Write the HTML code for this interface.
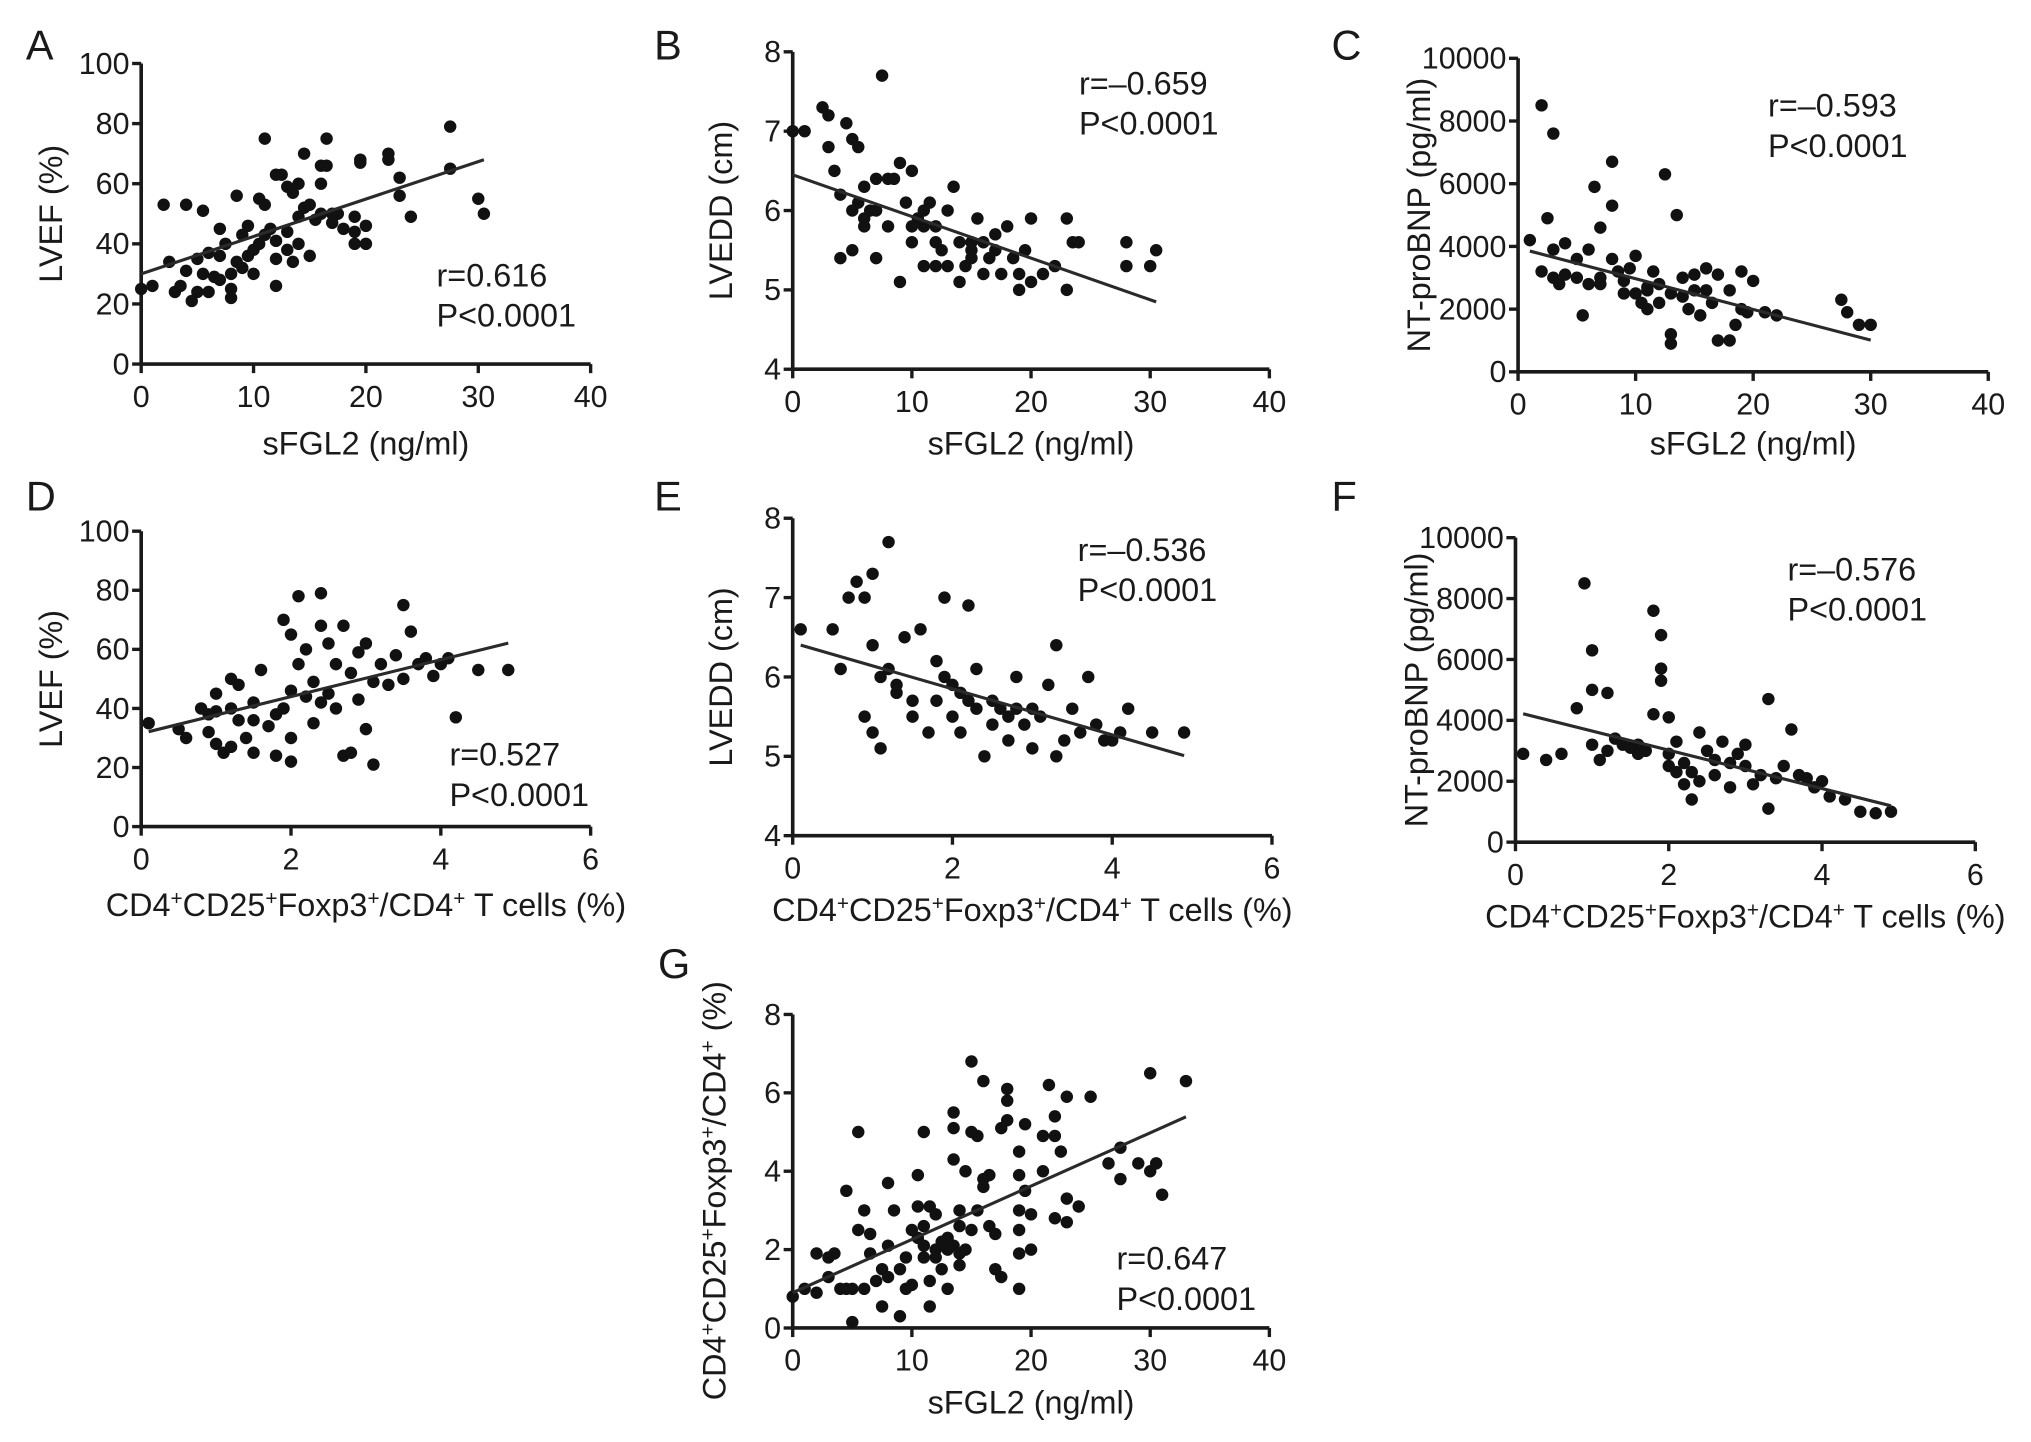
<!DOCTYPE html>
<html><head><meta charset="utf-8"><style>
html,body{margin:0;padding:0;background:#fff}
svg{display:block}
text{font-family:"Liberation Sans",sans-serif;fill:#1a1a1a}
</style></head><body>
<svg id="fig" width="2031" height="1442" viewBox="0 0 1568 1113" preserveAspectRatio="none" xmlns="http://www.w3.org/2000/svg"></svg>
<script>
// ---- data ----
const aX=[0,1,2,2.5,3,3.5,4,4,4.5,5,5,5.5,5.5,6,6,6.5,7,7,7,7.5,8,8,8,8.5,8.5,9,9,9.5,9.5,10,10,10.5,10.5,11,11,11,11.5,12,12,12,12,12.5,13,13,13,13.5,13.5,14,14,14,14.5,14.5,15,15,15.5,16,16,16,16.5,16.5,17,17,17.5,18,19,19,19,19.5,19.5,20,20,22,22,23,23,24,27.5,27.5,30,30.5];
const aY=[25,26,53,34,24,26,53,31,21,24,35,51,30,24,37,29,45,36,28,40,30,22,25,56,34,43,32,46,36,38,30,40,55,53,75,43,45,41,35,26,63,63,59,44,38,57,34,49,60,40,70,52,53,36,48,50,60,66,75,66,47,50,50,45,49,44,40,67,68,46,40,68,70,62,56,49,79,65,55,50];
const bX=[0,1,2.5,3,3,3.5,4,4,4.5,5,5,5,5.5,5.5,6,6,6.5,7,7,7.5,8,8,8.5,9,9,9.5,10,10,10.5,11,11,11.5,12,12,12.5,13,13,13.5,14,14,14.5,15,15,15.5,16,16,16.5,17,17,17.5,18,18.5,19,19,19.5,20,20,21,22,23,23,23.5,24,28,28,30,30.5,12,11,7,6,10,15];
const bY=[7.0,7.0,7.3,7.2,6.8,6.5,6.2,5.4,7.1,6.9,6.0,5.5,6.8,6.1,6.3,5.8,6.0,5.4,6.4,7.7,6.4,5.8,6.4,6.6,5.1,6.1,5.6,6.5,5.9,5.3,5.8,6.1,5.3,5.6,5.5,5.3,6.0,6.3,5.6,5.1,5.3,5.5,5.4,5.9,5.2,5.6,5.4,5.7,5.5,5.2,5.8,5.4,5.2,5.0,5.5,5.9,5.1,5.2,5.3,5.0,5.9,5.6,5.6,5.6,5.3,5.3,5.5,5.8,6.0,6.0,5.9,5.8,5.6];
const cX=[1,2,2,2.5,3,3,3,3.5,4,4,5,5,5.5,6,6,6.5,7,7,8,8,8,8.5,9,9.5,10,10,10.5,11,11,11.5,12,12,12.5,13,13,13,13.5,14,14,14.5,15,15,15.5,16,16,16.5,17,17,18,18,18.5,19,19,19.5,20,21,22,27.5,28,29,30,7,9,11];
const cY=[4200,8500,3200,4900,7600,3900,3000,2800,4100,3100,3000,3600,1800,2800,3900,5900,3000,4600,6700,5300,3600,3200,2900,3300,2500,3700,2200,2000,2600,3200,2200,2800,6300,900,1200,2500,5000,2400,3000,2000,2600,3100,1800,3300,2600,2200,1000,3100,2600,1000,1500,2000,3200,1900,2900,1900,1800,2300,1900,1500,1500,2800,2500,2700];
const dX=[0.1,0.5,0.6,0.8,0.9,0.9,1,1,1,1.1,1.2,1.2,1.3,1.3,1.4,1.5,1.5,1.6,1.7,1.8,1.8,1.9,1.9,2,2,2,2,2.1,2.1,2.2,2.2,2.3,2.3,2.4,2.4,2.5,2.5,2.6,2.6,2.7,2.7,2.8,2.8,2.9,2.9,3,3,3.1,3.1,3.2,3.3,3.4,3.5,3.5,3.6,3.7,3.8,3.9,4,4.1,4.2,4.5,4.9,1.5,2.4,1.2];
const dY=[35,33,30,40,38,32,28,45,39,25,27,50,36,48,30,42,25,53,34,38,24,40,70,65,46,30,22,78,55,44,60,49,35,79,68,62,45,55,40,68,24,52,25,59,43,62,33,21,49,55,48,58,75,50,66,55,57,51,55,57,37,53,53,36,42,40];
const eX=[0.1,0.5,0.6,0.7,0.8,0.9,0.9,1,1,1,1.1,1.1,1.2,1.2,1.3,1.4,1.5,1.5,1.6,1.7,1.8,1.8,1.9,1.9,2,2,2.1,2.2,2.2,2.3,2.3,2.4,2.5,2.5,2.6,2.7,2.8,2.8,2.9,3,3,3.1,3.2,3.3,3.3,3.4,3.5,3.6,3.7,3.8,3.9,4,4.1,4.2,4.5,4.9,1.3,2.1,2.7];
const eY=[6.6,6.6,6.1,7.0,7.2,7.0,5.5,7.3,6.4,5.3,5.1,6.0,7.7,6.1,5.8,6.5,5.7,5.5,6.6,5.3,6.2,5.7,7.0,6.0,5.9,5.5,5.3,5.7,6.9,5.6,6.1,5.0,5.7,5.4,5.6,5.2,5.6,6.0,5.4,5.6,5.1,5.5,5.9,6.4,5.0,5.2,5.6,5.3,6.0,5.4,5.2,5.2,5.3,5.6,5.3,5.3,5.9,5.8,5.5];
const fX=[0.1,0.4,0.6,0.8,0.9,1,1,1,1.1,1.2,1.2,1.3,1.4,1.5,1.6,1.7,1.8,1.8,1.9,1.9,1.9,2,2,2,2.1,2.2,2.2,2.3,2.3,2.4,2.4,2.5,2.6,2.6,2.7,2.8,2.8,2.9,3,3,3.1,3.2,3.3,3.3,3.4,3.5,3.6,3.7,3.8,3.9,4,4.1,4.3,4.5,4.7,4.9,2.1,1.6];
const fY=[2900,2700,2900,4400,8500,5000,6300,3200,2700,4900,3000,3400,3200,3100,3200,3000,7600,4200,6800,5700,5300,4100,2500,2900,2300,1900,2600,1400,2300,3600,2000,3000,2700,2200,3300,2600,1800,2900,3200,2500,1900,2200,4700,1100,2100,2500,3700,2200,2100,1800,2000,1500,1400,1000,950,1000,3300,2900];
const gX=[0,1,2,2,3,3,3.5,4,4.5,4.5,5,5,5.5,5.5,6,6,6.5,6.5,7,7.5,7.5,8,8,8,8.5,9,9,9.5,9.5,10,10.5,10.5,10.5,11,11,11,11.5,11.5,11.5,12,12,12.5,13,13,13,13.5,13.5,13.5,13.5,14,14,14,14.5,14.5,15,15,15,15.5,15.5,16,16,16,16.5,16.5,17,17,17.5,17.5,18,18,18,19,19,19,19,19,19,19.5,19.5,20,20,21,21,21.5,22,22,22,22.5,23,23,23,24,25,26.5,27.5,27.5,29,30,30,30.5,31,33,12.5,13,14,10,11,12];
const gY=[0.8,1.0,0.9,1.9,1.8,1.3,1.9,1.0,3.5,1.0,0.15,1.0,5.0,2.5,3.0,1.0,2.4,1.9,1.2,0.55,1.5,2.1,3.7,1.3,3.0,0.3,1.5,1.8,1.0,1.1,3.9,3.1,2.3,2.1,5.0,1.8,0.55,3.1,1.2,2.9,2.0,1.5,2.0,2.3,1.0,5.5,5.1,4.3,2.1,3.0,1.6,2.6,4.0,2.0,6.8,5.0,2.5,4.9,3.0,3.8,3.6,6.3,3.9,2.6,2.4,1.5,5.1,1.3,6.1,5.8,5.3,4.5,3.9,3.0,2.5,1.9,1.0,5.2,3.5,2.9,2.0,4.0,4.9,6.2,5.4,4.9,2.8,4.5,5.9,3.3,2.7,3.1,5.9,4.2,3.8,4.6,4.2,6.5,4.0,4.2,3.4,6.3,2.2,2.1,1.9,2.5,2.6,1.8];
// regression: [intercept, slope, xStart, xEnd]
const aFit=[30,1.245,0,30.5], bFit=[6.45,-0.0525,0,30.5], cFit=[3950,-98,1,30];
const dFit=[31.5,6.25,0.1,4.9], eFit=[6.43,-0.29,0.1,4.9], fFit=[4280,-630,0.1,4.9], gFit=[0.9,0.136,0,33];
const aTicksY=[0,20,40,60,80,100], bTicksY=[4,5,6,7,8], cTicksY=[0,2000,4000,6000,8000,10000];
const xTicks40=[0,10,20,30,40], xTicks6=[0,2,4,6], gTicksY=[0,2,4,6,8];

// ---- drawing ----
const NS="http://www.w3.org/2000/svg";
const svg=document.getElementById('fig');
function mk(tag,attrs,parent){const e=document.createElementNS(NS,tag);for(const k in attrs)e.setAttribute(k,attrs[k]);(parent||svg).appendChild(e);return e;}
const CD4=[["CD4",0],["+",1],["CD25",0],["+",1],["Foxp3",0],["+",1],["/CD4",0],["+",1]];
function richText(g,parts,attrs,tail){
  const t=mk('text',attrs,g);
  parts.forEach(p=>{const s=mk('tspan',p[1]?{'baseline-shift':'super','font-size':'16'}:{},t);s.textContent=p[0];});
  if(tail){const s=mk('tspan',{},t);s.textContent=tail;}
  return t;
}
function panel(cfg){
  const g=mk('g',{});
  
  
  const sx=v=>cfg.px0+(v-cfg.xmin)/(cfg.xmax-cfg.xmin)*(cfg.px1-cfg.px0);
  const sy=v=>cfg.py0-(v-cfg.ymin)/(cfg.ymax-cfg.ymin)*(cfg.py0-cfg.py1);
  const lab=mk('text',{x:cfg.lx,y:cfg.ly,'font-size':32},g);lab.textContent=cfg.id;
  
  
  const ax=mk('path',{d:`M${cfg.px0} ${cfg.py1}V${cfg.py0}H${cfg.px1}`,stroke:'#1a1a1a','stroke-width':2.8,fill:'none'},g);
  
  
  cfg.yt.forEach(v=>{const y=sy(v);mk('line',{x1:cfg.px0-7,x2:cfg.px0,y1:y,y2:y,stroke:'#1a1a1a','stroke-width':2.6},g);
    const t=mk('text',{x:cfg.px0-9,y:y+8,'font-size':23.5,'text-anchor':'end'},g);t.textContent=v;
    
    });
  cfg.xt.forEach(v=>{const x=sx(v);mk('line',{x1:x,x2:x,y1:cfg.py0,y2:cfg.py0+7,stroke:'#1a1a1a','stroke-width':2.6},g);
    const t=mk('text',{x:x,y:cfg.py0+33,'font-size':23.5,'text-anchor':'middle'},g);t.textContent=v;
    
    });
  cfg.xs.forEach((xv,i)=>{const c=mk('circle',{cx:sx(xv),cy:sy(cfg.ys[i]),r:4.8,fill:'#111'},g);
    
    });
  const f=cfg.fit;
  const ln=mk('line',{x1:sx(f[2]),y1:sy(f[0]+f[1]*f[2]),x2:sx(f[3]),y2:sy(f[0]+f[1]*f[3]),stroke:'#2a2a2a','stroke-width':2.4},g);
  
  
  const r=mk('text',{x:cfg.rx,y:cfg.ry,'font-size':25},g);r.textContent=cfg.r;
  
  
  const p=mk('text',{x:cfg.rx,y:cfg.ry+31,'font-size':25},g);p.textContent='P<0.0001';
  
  
  let xt;
  if(cfg.xcd4) xt=richText(g,CD4,{x:(cfg.px0+cfg.px1)/2,y:cfg.xty,'font-size':25,'text-anchor':'middle'},' T cells (%)');
  else {xt=mk('text',{x:(cfg.px0+cfg.px1)/2,y:cfg.xty,'font-size':25,'text-anchor':'middle'},g);xt.textContent='sFGL2 (ng/ml)';}
  
  
  const ymid=(cfg.py0+cfg.py1)/2+cfg.ytoff;
  let yt;
  if(cfg.ycd4) yt=richText(g,CD4,{x:0,y:0,'font-size':25,'text-anchor':'middle',transform:`translate(${cfg.ytx},${ymid}) rotate(-90)`},' (%)');
  else {yt=mk('text',{'font-size':25,'text-anchor':'middle',transform:`translate(${cfg.ytx},${ymid}) rotate(-90)`},g);yt.textContent=cfg.ytitle;}
  
  
}
panel({id:'A',lx:20,ly:46,px0:109,px1:456,py0:281,py1:49,xmin:0,xmax:40,ymin:0,ymax:100,xt:xTicks40,yt:aTicksY,xs:aX,ys:aY,fit:aFit,r:'r=0.616',rx:337,ry:221,xty:351,ytx:48,ytitle:'LVEF (%)',ytoff:0});
panel({id:'B',lx:505,ly:46,px0:612,px1:980,py0:285,py1:40,xmin:0,xmax:40,ymin:4,ymax:8,xt:xTicks40,yt:bTicksY,xs:bX,ys:bY,fit:bFit,r:'r=–0.659',rx:833,ry:73,xty:351,ytx:565,ytitle:'LVEDD (cm)',ytoff:0});
panel({id:'C',lx:1028,ly:46,px0:1172,px1:1535,py0:287,py1:45,xmin:0,xmax:40,ymin:0,ymax:10000,xt:xTicks40,yt:cTicksY,xs:cX,ys:cY,fit:cFit,r:'r=–0.593',rx:1365,ry:90,xty:351,ytx:1104,ytitle:'NT-proBNP (pg/ml)',ytoff:0});
panel({id:'D',lx:20,ly:394,px0:109,px1:456,py0:638,py1:410,xmin:0,xmax:6,ymin:0,ymax:100,xt:xTicks6,yt:aTicksY,xs:dX,ys:dY,fit:dFit,r:'r=0.527',rx:347,ry:591,xty:707,xcd4:true,ytx:48,ytitle:'LVEF (%)',ytoff:0});
panel({id:'E',lx:505,ly:394,px0:612,px1:982,py0:645,py1:400,xmin:0,xmax:6,ymin:4,ymax:8,xt:xTicks6,yt:bTicksY,xs:eX,ys:eY,fit:eFit,r:'r=–0.536',rx:832,ry:433,xty:711,xcd4:true,ytx:565,ytitle:'LVEDD (cm)',ytoff:0});
panel({id:'F',lx:1028,ly:394,px0:1170,px1:1525,py0:650,py1:415,xmin:0,xmax:6,ymin:0,ymax:10000,xt:xTicks6,yt:cTicksY,xs:fX,ys:fY,fit:fFit,r:'r=–0.576',rx:1380,ry:448,xty:716,xcd4:true,ytx:1102,ytitle:'NT-proBNP (pg/ml)',ytoff:0});
panel({id:'G',lx:508,ly:755,px0:612,px1:980,py0:1025,py1:783,xmin:0,xmax:40,ymin:0,ymax:8,xt:xTicks40,yt:gTicksY,xs:gX,ys:gY,fit:gFit,r:'r=0.647',rx:862,ry:980,xty:1091,ycd4:true,ytx:560,ytoff:15});
</script>
</body></html>
